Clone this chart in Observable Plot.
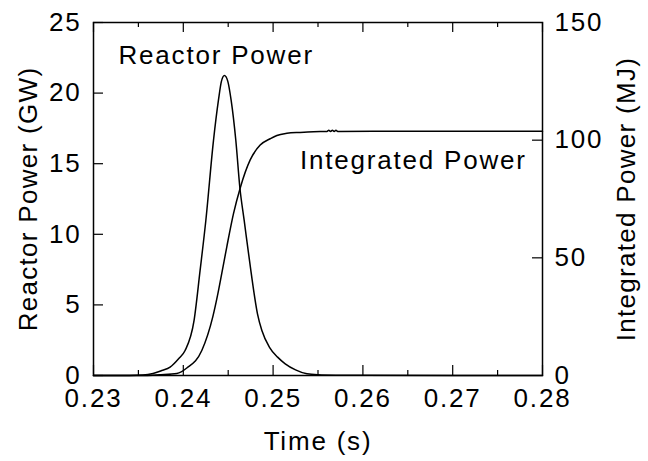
<!DOCTYPE html>
<html>
<head>
<meta charset="utf-8">
<script src="https://cdn.jsdelivr.net/npm/d3@7"></script>
<script src="https://cdn.jsdelivr.net/npm/@observablehq/plot@0.6"></script>
<style>
  html, body { margin: 0; padding: 0; background: white; }
</style>
</head>
<body>
<div id="chart"></div>
<script>
// Reactor power (GW) vs time (s)
const powerTime = [0.2300, 0.2340, 0.2355, 0.23663, 0.2376, 0.23853, 0.2395, 0.2402, 0.2412, 0.24187, 0.24251, 0.24336, 0.24391, 0.24425, 0.24458, 0.24495, 0.24533, 0.24585, 0.2463, 0.24678, 0.24752, 0.24826, 0.24875, 0.2496, 0.2505, 0.25135, 0.2525, 0.25377, 0.2550, 0.2570, 0.2600, 0.2800];
const powerGW   = [0, 0.005, 0.03, 0.14, 0.35, 0.59, 1.2, 1.77, 3.9, 7.44, 10.98, 16.64, 19.48, 20.85, 21.25, 20.85, 19.48, 16.64, 13.3, 10.98, 7.44, 4.37, 3.19, 2.0, 1.3, 0.83, 0.4, 0.12, 0.05, 0.02, 0.01, 0];

// Integrated power (MJ) vs time (s)
const integTime = [0.2300, 0.2360, 0.2375, 0.23928, 0.24039, 0.24206, 0.24329, 0.2438, 0.24429, 0.24485, 0.24559, 0.24633, 0.24745, 0.24856, 0.24968, 0.25042, 0.25154, 0.2530, 0.2545, 0.2560, 0.2562, 0.2564, 0.2566, 0.2568, 0.2570, 0.2572, 0.2650, 0.2800];
const integMJ   = [0, 0.05, 0.3, 0.85, 3.2, 10.6, 25.0, 33.8, 43.5, 54.8, 68.8, 79.6, 91.6, 97.9, 100.6, 102.0, 102.9, 103.3, 103.6, 103.7, 104.2, 103.7, 104.2, 103.7, 104.2, 103.7, 103.8, 103.8];

// Axis ticks
const xTicks = [0.23, 0.24, 0.25, 0.26, 0.27, 0.28];
const xMinorTicks = [0.235, 0.245, 0.255, 0.265, 0.275];
const leftTicks = [0, 5, 10, 15, 20, 25];
const rightTicks = [0, 50, 100, 150];
const rightInnerTicks = [50, 100];

// Text
const xLabel = "Time (s)";
const leftLabel = "Reactor Power (GW)";
const rightLabel = "Integrated Power (MJ)";
const annText = ["Reactor Power", "Integrated Power"];
const annTime = [0.24366, 0.26562];
const annValue = [22.66, 15.23]; // in GW-scale units

const ratio = 150 / 25; // MJ per GW-axis unit

const power = powerTime.map((t, i) => ({t, v: powerGW[i]}));
const integ = integTime.map((t, i) => ({t, v: integMJ[i] / ratio}));
const ann = annText.map((s, i) => ({s, t: annTime[i], v: annValue[i]}));

const W = 648, H = 461, mL = 93, mR = 106, mT = 22, mB = 86;
const innerW = W - mL - mR, innerH = H - mT - mB;

const chart = Plot.plot({
  width: W, height: H,
  marginLeft: mL, marginRight: mR, marginTop: mT, marginBottom: mB,
  style: {fontFamily: "'Liberation Sans', Arial, sans-serif", fontSize: "26px", letterSpacing: "1.8px", background: "white", color: "black", overflow: "visible"},
  x: {domain: [0.23, 0.28]},
  y: {domain: [0, 25]},
  marks: [
    Plot.axisX({ticks: xTicks, tickSize: 0, tickPadding: 13, tickFormat: d3.format(".2f"), label: null}),
    Plot.axisY({anchor: "left", ticks: leftTicks, tickSize: 0, tickPadding: 12, tickFormat: d => d, label: null}),
    Plot.axisY({anchor: "right", ticks: rightTicks.map(v => v / ratio), tickSize: 0, tickPadding: 12, tickFormat: d => Math.round(d * ratio), label: null}),
    // inward ticks
    Plot.tickX(xTicks, {x: d => d, insetTop: innerH - 10, stroke: "black", strokeWidth: 1.2}),
    Plot.tickX(xTicks, {x: d => d, insetBottom: innerH - 10, stroke: "black", strokeWidth: 1.2}),
    Plot.tickX(xMinorTicks, {x: d => d, insetTop: innerH - 5, stroke: "black", strokeWidth: 1.2}),
    Plot.tickX(xMinorTicks, {x: d => d, insetBottom: innerH - 5, stroke: "black", strokeWidth: 1.2}),
    Plot.tickY(leftTicks, {y: d => d, insetRight: innerW - 10, stroke: "black", strokeWidth: 1.2}),
    Plot.tickY(rightInnerTicks, {y: d => d / ratio, insetLeft: innerW - 10, stroke: "black", strokeWidth: 1.2}),
    Plot.line(power, {x: "t", y: "v", curve: "monotone-x", stroke: "black", strokeWidth: 1.5}),
    Plot.line(integ, {x: "t", y: "v", curve: "monotone-x", stroke: "black", strokeWidth: 1.5}),
    Plot.frame({stroke: "black", strokeWidth: 1.5}),
    Plot.text(ann, {x: "t", y: "v", text: "s", textAnchor: "middle", lineAnchor: "middle", fill: "black"}),
    Plot.text([xLabel], {frameAnchor: "bottom", dy: 66, text: d => d, textAnchor: "middle", lineAnchor: "middle", fill: "black"}),
    Plot.text([leftLabel], {frameAnchor: "left", dx: -65, rotate: -90, text: d => d, textAnchor: "middle", lineAnchor: "middle", fill: "black"}),
    Plot.text([rightLabel], {frameAnchor: "right", dx: 84, rotate: -90, text: d => d, textAnchor: "middle", lineAnchor: "middle", fill: "black"})
  ]
});
d3.select(chart).selectAll("text")
  .filter(function() { const s = this.textContent; return s === leftLabel || s === rightLabel; })
  .style("letter-spacing", "1.3px");
document.getElementById("chart").appendChild(chart);
</script>
</body>
</html>
